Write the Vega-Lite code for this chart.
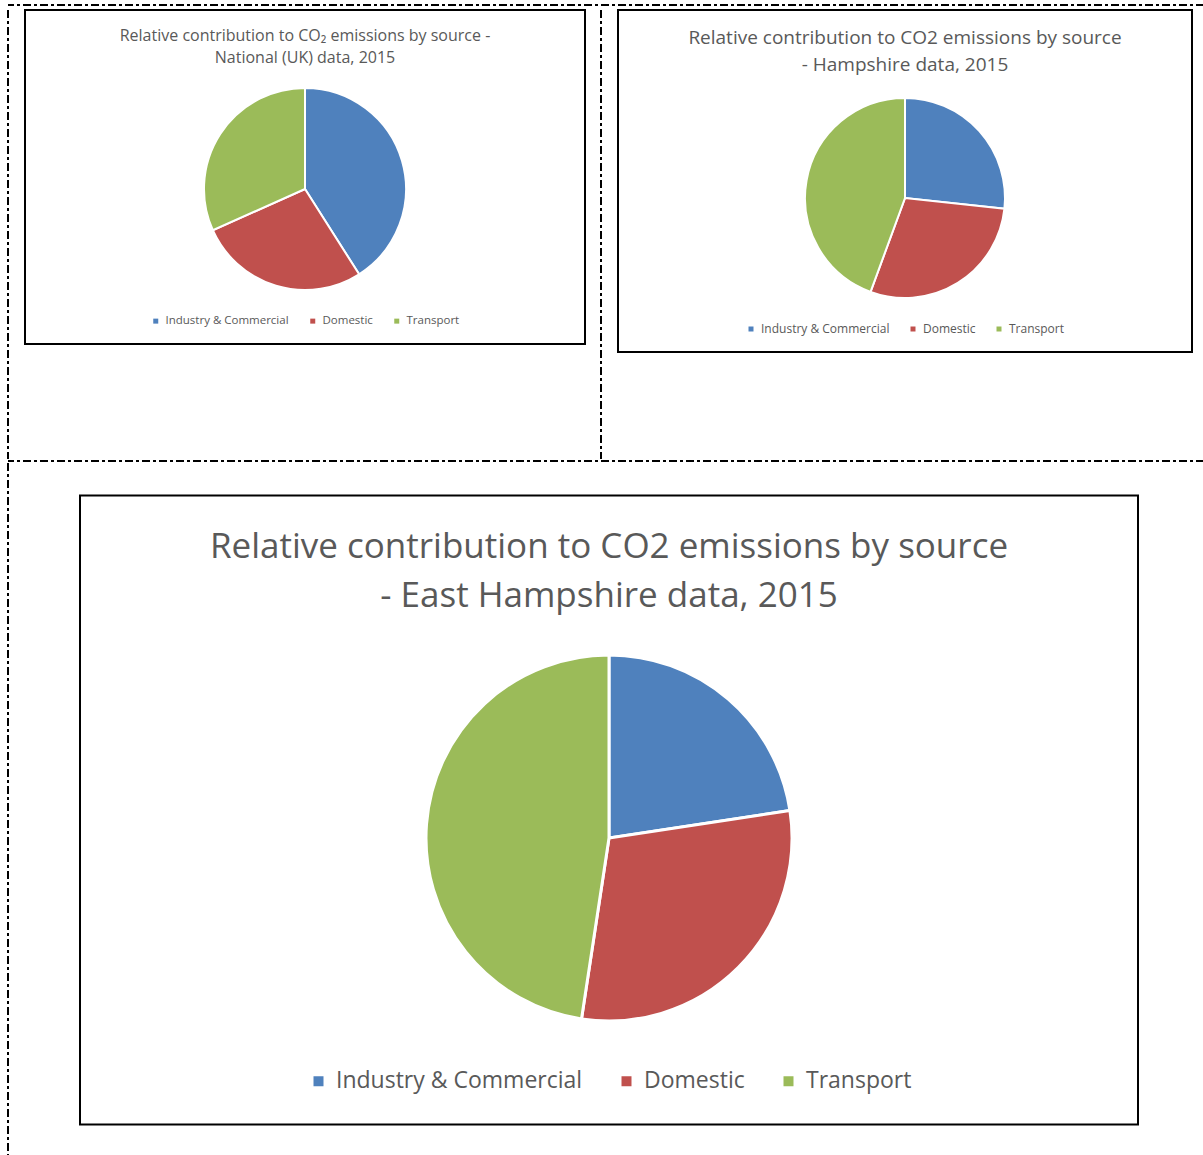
{
  "$schema": "https://vega.github.io/schema/vega-lite/v6.json",
  "padding": {"left": 7, "top": 4, "right": 0, "bottom": 0},
  "background": "white",
  "datasets": {
    "uk": [
      {"source": "Industry & Commercial", "share": 41.0, "rank": 1},
      {"source": "Domestic", "share": 27.3, "rank": 2},
      {"source": "Transport", "share": 31.7, "rank": 3}
    ],
    "hampshire": [
      {"source": "Industry & Commercial", "share": 26.7, "rank": 1},
      {"source": "Domestic", "share": 28.9, "rank": 2},
      {"source": "Transport", "share": 44.4, "rank": 3}
    ],
    "easthants": [
      {"source": "Industry & Commercial", "share": 22.6, "rank": 1},
      {"source": "Domestic", "share": 29.8, "rank": 2},
      {"source": "Transport", "share": 47.6, "rank": 3}
    ],
    "border": [{"divider": "table border"}]
  },
  "config": {
    "view": {"stroke": null},
    "font": "Open Sans",
    "title": {"color": "#595959", "fontWeight": "normal", "font": "Open Sans", "anchor": "middle"},
    "legend": {
      "labelColor": "#595959",
      "labelFont": "Open Sans",
      "labelLimit": 0,
      "symbolType": "square",
      "symbolStrokeWidth": 0,
      "layout": {"bottom": {"anchor": "middle"}}
    }
  },
  "spacing": 0,
  "resolve": {"scale": {"color": "independent"}, "legend": {"color": "independent"}},
  "vconcat": [
    {
      "data": {"name": "border"},
      "width": 1196,
      "height": 4,
      "mark": {"type": "rule", "color": "black", "strokeWidth": 2, "strokeDash": [8, 3, 3, 3]},
      "encoding": {"y": {"datum": 1, "type": "quantitative", "scale": {"domain": [0, 1]}, "axis": null}}
    },
    {
      "spacing": 16,
      "bounds": "flush",
      "resolve": {"scale": {"color": "independent"}, "legend": {"color": "independent"}},
      "hconcat": [
        {
          "data": {"name": "border"},
          "width": 1,
          "height": 449,
          "mark": {"type": "rule", "color": "black", "strokeWidth": 2, "strokeDash": [8, 3, 3, 3]},
          "encoding": {"x": {"datum": 0, "type": "quantitative", "scale": {"domain": [0, 1]}, "axis": null}}
        },
        {
          "data": {"name": "uk"},
          "width": 560,
          "height": 334,
          "view": {"stroke": "black", "strokeWidth": 2},
          "title": {"text": ["Relative contribution to CO₂ emissions by source -", "National (UK) data, 2015"], "fontSize": 16, "lineHeight": 22, "offset": -56},
          "mark": {"type": "arc", "radius": 101, "stroke": "white", "strokeWidth": 2, "yOffset": 12},
          "encoding": {
            "theta": {"field": "share", "type": "quantitative", "stack": true},
            "order": {"field": "rank", "type": "quantitative"},
            "color": {
              "field": "source", "type": "nominal",
              "scale": {"domain": ["Industry & Commercial", "Domestic", "Transport"], "range": ["#4F81BD", "#C0504D", "#9BBB59"]},
              "legend": {"title": null, "orient": "bottom", "offset": -29, "labelFontSize": 11.5, "symbolSize": 25, "columnPadding": 18, "labelOffset": 4}
            }
          }
        },
        {
          "data": {"name": "border"},
          "width": 1,
          "height": 449,
          "mark": {"type": "rule", "color": "black", "strokeWidth": 2, "strokeDash": [8, 3, 3, 3]},
          "encoding": {"x": {"datum": 0, "type": "quantitative", "scale": {"domain": [0, 1]}, "axis": null}}
        },
        {
          "data": {"name": "hampshire"},
          "width": 574,
          "height": 342,
          "view": {"stroke": "black", "strokeWidth": 2},
          "title": {"text": ["Relative contribution to CO2 emissions by source", "- Hampshire data, 2015"], "fontSize": 19, "lineHeight": 27, "offset": -65},
          "mark": {"type": "arc", "radius": 100, "stroke": "white", "strokeWidth": 2, "yOffset": 17},
          "encoding": {
            "theta": {"field": "share", "type": "quantitative", "stack": true},
            "order": {"field": "rank", "type": "quantitative"},
            "color": {
              "field": "source", "type": "nominal",
              "scale": {"domain": ["Industry & Commercial", "Domestic", "Transport"], "range": ["#4F81BD", "#C0504D", "#9BBB59"]},
              "legend": {"title": null, "orient": "bottom", "offset": -29, "labelFontSize": 12, "symbolSize": 25, "columnPadding": 17, "labelOffset": 4}
            }
          }
        }
      ]
    },
    {
      "data": {"name": "border"},
      "width": 1196,
      "height": 1,
      "mark": {"type": "rule", "color": "black", "strokeWidth": 2, "strokeDash": [8, 3, 3, 3]},
      "encoding": {"y": {"datum": 1, "type": "quantitative", "scale": {"domain": [0, 1]}, "axis": null}}
    },
    {
      "spacing": 71,
      "center": true,
      "bounds": "flush",
      "resolve": {"scale": {"color": "independent"}, "legend": {"color": "independent"}},
      "hconcat": [
        {
          "data": {"name": "border"},
          "width": 1,
          "height": 694,
          "mark": {"type": "rule", "color": "black", "strokeWidth": 2, "strokeDash": [8, 3, 3, 3]},
          "encoding": {"x": {"datum": 0, "type": "quantitative", "scale": {"domain": [0, 1]}, "axis": null}}
        },
        {
          "data": {"name": "easthants"},
          "width": 1058,
          "height": 629,
          "view": {"stroke": "black", "strokeWidth": 2},
          "title": {"text": ["Relative contribution to CO2 emissions by source", "- East Hampshire data, 2015"], "fontSize": 35, "lineHeight": 49, "offset": -118},
          "mark": {"type": "arc", "radius": 183, "stroke": "white", "strokeWidth": 3, "yOffset": 28},
          "encoding": {
            "theta": {"field": "share", "type": "quantitative", "stack": true},
            "order": {"field": "rank", "type": "quantitative"},
            "color": {
              "field": "source", "type": "nominal",
              "scale": {"domain": ["Industry & Commercial", "Domestic", "Transport"], "range": ["#4F81BD", "#C0504D", "#9BBB59"]},
              "legend": {"title": null, "orient": "bottom", "offset": -55, "labelFontSize": 23, "symbolSize": 100, "columnPadding": 32, "labelOffset": 6}
            }
          }
        }
      ]
    }
  ]
}
